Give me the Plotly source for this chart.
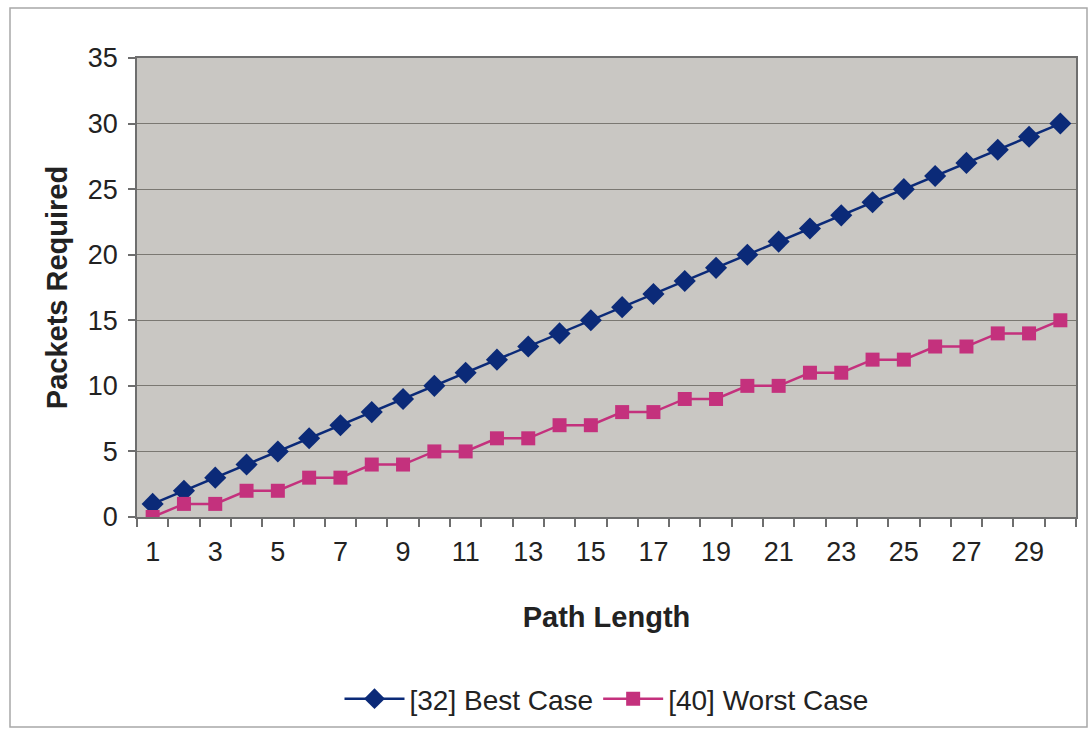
import plotly.graph_objects as go

# Path lengths (categories) and packets required for each scheme
path_length = list(range(1, 31))
best_case = [1, 2, 3, 4, 5, 6, 7, 8, 9, 10,
             11, 12, 13, 14, 15, 16, 17, 18, 19, 20,
             21, 22, 23, 24, 25, 26, 27, 28, 29, 30]
worst_case = [0, 1, 1, 2, 2, 3, 3, 4, 4, 5,
              5, 6, 6, 7, 7, 8, 8, 9, 9, 10,
              10, 11, 11, 12, 12, 13, 13, 14, 14, 15]
x_tick_labels = [str(v) for v in range(1, 30, 2)]
y_ticks = [0, 5, 10, 15, 20, 25, 30, 35]

FONT = "Liberation Sans, Arial, sans-serif"
W, H = 1090, 730
L, R, T, B = 137, 14, 58, 213
pw, ph = W - L - R, H - T - B

fig = go.Figure()
fig.add_trace(go.Scatter(
    x=path_length, y=best_case, name="[32] Best Case", mode="lines+markers",
    line=dict(color="#0b2a78", width=2.5),
    marker=dict(symbol="diamond", size=17, color="#0b2a78"),
))
fig.add_trace(go.Scatter(
    x=path_length, y=worst_case, name="[40] Worst Case", mode="lines+markers",
    line=dict(color="#c4317d", width=2.5),
    marker=dict(symbol="square", size=14, color="#c4317d"),
))

# Frame around the whole chart
fig.add_shape(type="rect", xref="paper", yref="paper",
              x0=(10 - L) / pw, x1=(1087 - L) / pw,
              y0=(T + ph - 727) / ph, y1=(T + ph - 8) / ph,
              line=dict(color="#a8a8a8", width=1.5), layer="below")

fig.update_layout(
    width=W, height=H,
    margin=dict(l=L, r=R, t=T, b=B, autoexpand=False),
    paper_bgcolor="white",
    plot_bgcolor="#c9c7c3",
    font=dict(family=FONT, size=27, color="#222222"),
    showlegend=True,
    legend=dict(orientation="h", x=0.5, xanchor="center",
                y=(T + ph - 699) / ph, yanchor="middle",
                font=dict(size=28, color="#222222"),
                itemwidth=60, bgcolor="rgba(0,0,0,0)"),
    xaxis=dict(
        range=[0.5, 30.5], automargin=False,
        tickvals=list(range(1, 30, 2)), ticktext=x_tick_labels,
        ticks="", showgrid=False, zeroline=False,
        showline=True, linecolor="#6e6e6e", linewidth=1.5, mirror=True,
        tickfont=dict(size=27), ticklabelstandoff=10,
        minor=dict(ticks="outside", tick0=0.5, dtick=1, ticklen=8,
                   tickcolor="#6e6e6e", tickwidth=1.5, showgrid=False),
        title=dict(text="<b>Path Length</b>", font=dict(size=29), standoff=41),
    ),
    yaxis=dict(
        range=[0, 35], automargin=False, tickvals=y_ticks,
        ticks="outside", ticklen=7, tickcolor="#6e6e6e", tickwidth=1.5,
        showgrid=True, gridcolor="#7a7872", gridwidth=1.2,
        zeroline=False,
        showline=True, linecolor="#6e6e6e", linewidth=1.5, mirror=True,
        tickfont=dict(size=27), ticklabelstandoff=5,
        title=dict(text="<b>Packets Required</b>", font=dict(size=29), standoff=12),
    ),
)

fig.write_html("out.html")
